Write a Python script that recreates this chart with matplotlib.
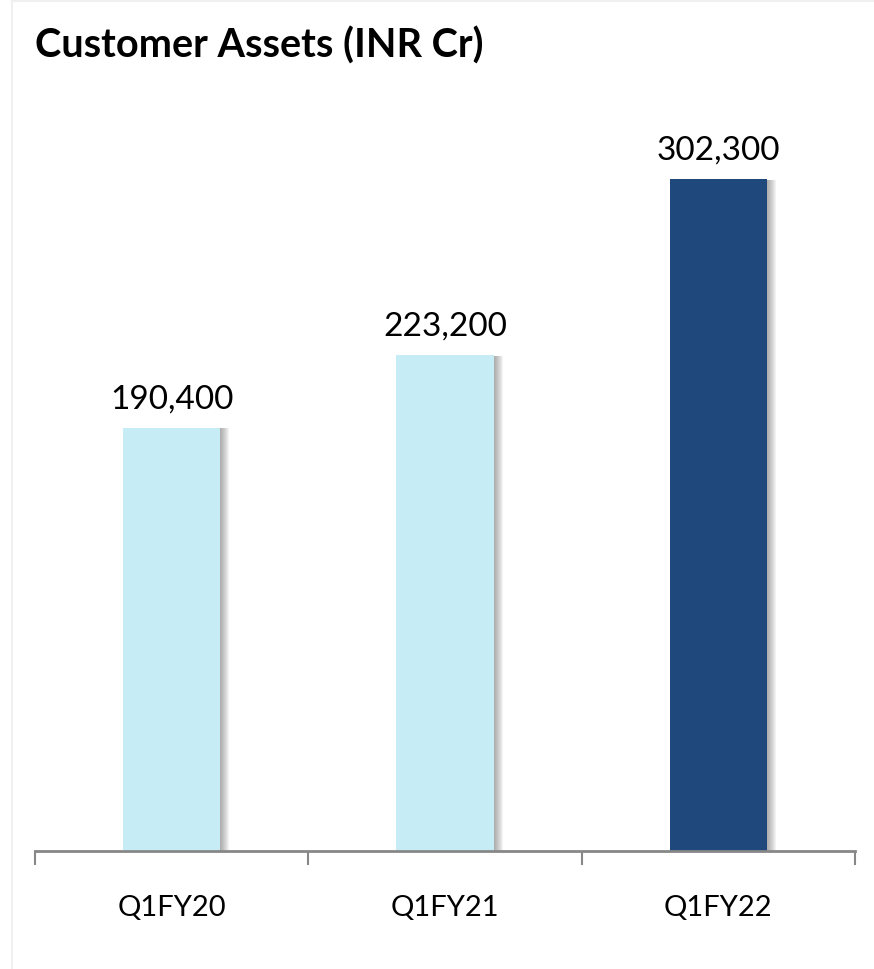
import matplotlib
matplotlib.use("Agg")
import matplotlib.pyplot as plt
import matplotlib.patheffects as pe
from matplotlib.lines import Line2D

categories = ["Q1FY20", "Q1FY21", "Q1FY22"]
values = [190400, 223200, 302300]
labels = ["190,400", "223,200", "302,300"]
colors = ["#C6EDF5", "#C6EDF5", "#1F497D"]

plt.rcParams['font.family'] = ['Lato', 'DejaVu Sans']

W, H = 874, 970
fig = plt.figure(figsize=(W / 100, H / 100), dpi=100)

# faint frame along top and left edges
fig.add_artist(Line2D([12 / W, 12 / W], [0, 1 - 2 / H], color="#F0F0F0", lw=1.5))
fig.add_artist(Line2D([12 / W, 1], [1 - 2 / H, 1 - 2 / H], color="#F0F0F0", lw=1.5))

ax_top = 74
ax_bot = 852
ax = fig.add_axes([35 / W, (H - ax_bot) / H, (855 - 35) / W, (ax_bot - ax_top) / H])

x = range(len(categories))
bars = ax.bar(x, values, width=0.355, color=colors, zorder=2)
# soft shadow on the right side, built from stacked offsets
shadow = [pe.SimplePatchShadow(offset=(k * 0.72, -0.5), shadow_rgbFace="#606060", alpha=0.07)
          for k in range(1, 10)]
for b in bars:
    b.set_path_effects(shadow + [pe.Normal()])

for i, (v, t) in enumerate(zip(values, labels)):
    ax.annotate(t, (i, v), xytext=(0, 14.4), textcoords="offset points",
                ha="center", va="baseline", fontsize=24, color="black")

ax.set_xlim(-0.5, len(categories) - 0.5)
ax.set_ylim(0, 350000)
ax.set_yticks([])
for s in ["top", "right", "left"]:
    ax.spines[s].set_visible(False)
ax.spines["bottom"].set_color("#878787")
ax.spines["bottom"].set_linewidth(2)
ax.spines["bottom"].set_zorder(3)

ax.set_xticks([-0.5, 0.5, 1.5, 2.5])
ax.set_xticklabels([])
ax.tick_params(axis="x", which="major", length=10, width=1.5, color="#878787")

for i, c in enumerate(categories):
    ax.annotate(c, (i, 0), xycoords=("data", "axes fraction"), xytext=(0, -46),
                textcoords="offset points", ha="center", va="baseline", fontsize=21)

fig.text(35 / W, 1 - 58 / H, "Customer Assets (INR Cr)", fontsize=28.5, fontweight="bold",
         ha="left", va="baseline")

fig.savefig("out.png", dpi=100, facecolor="white")
